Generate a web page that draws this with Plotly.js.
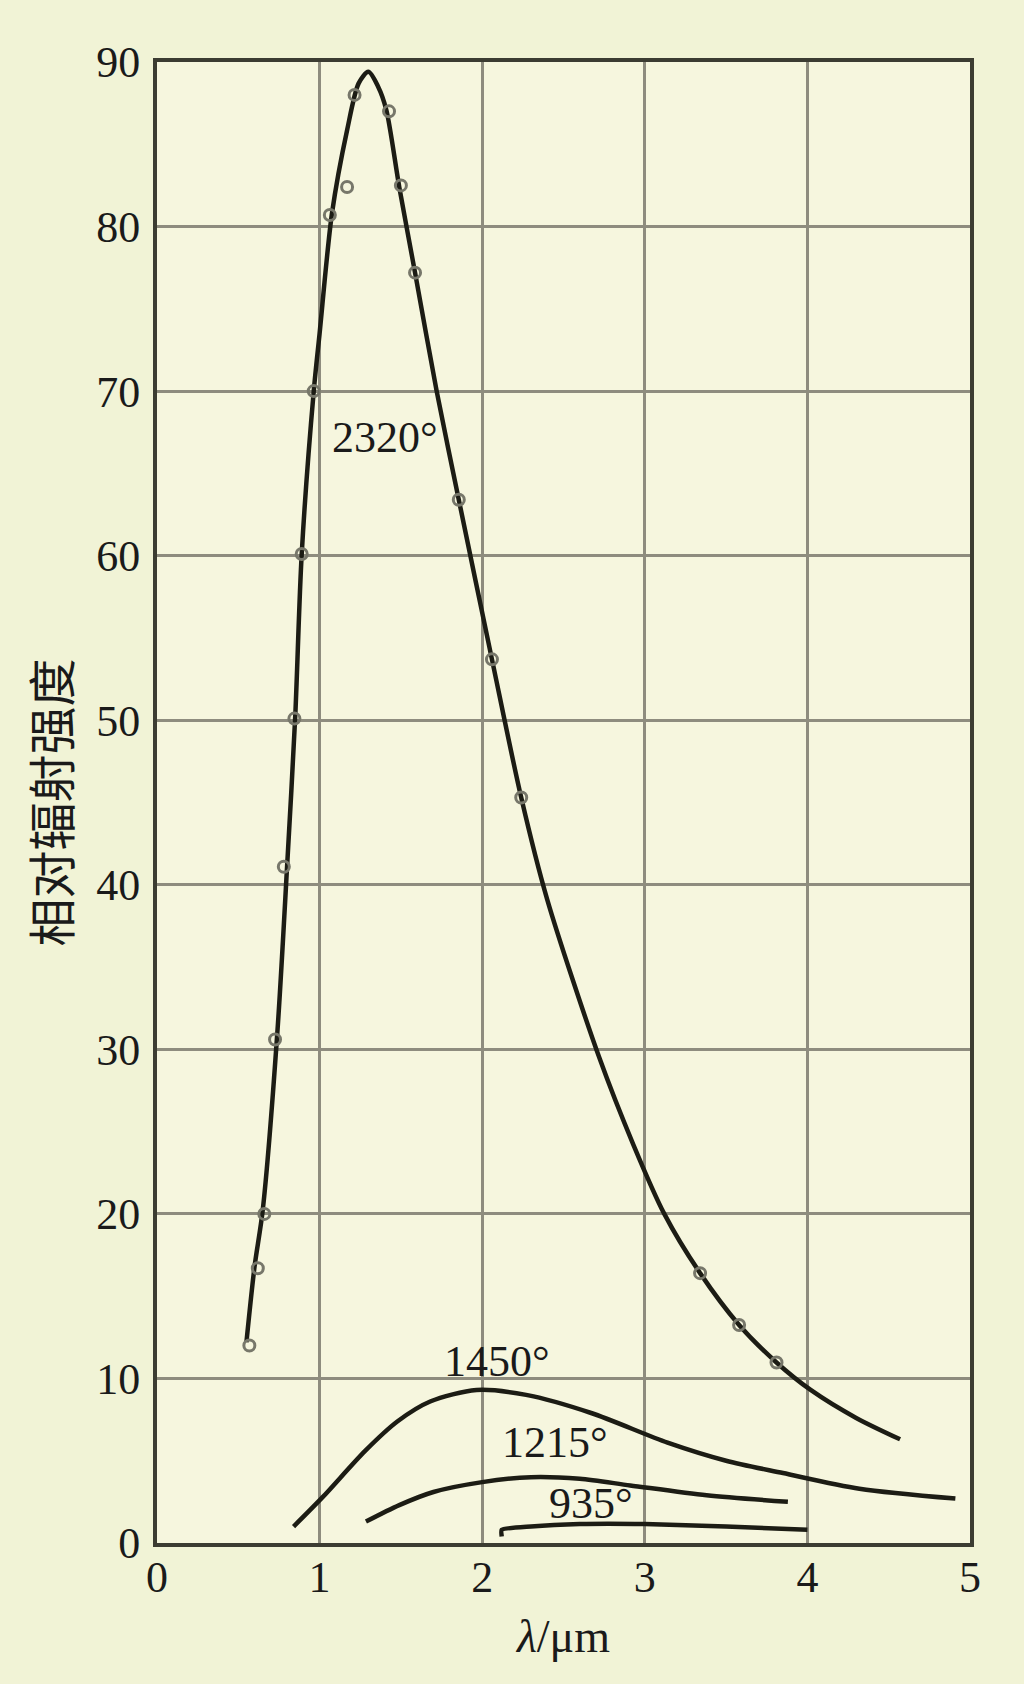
<!DOCTYPE html>
<html>
<head>
<meta charset="utf-8">
<script src="https://cdn.plot.ly/plotly-3.0.1.min.js"></script>
<style>
  html, body { margin: 0; padding: 0; background: #f1f3d6; }
  #chart { width: 1024px; height: 1684px; }
</style>
</head>
<body>
<div id="chart"></div>
<script>
// Wavelength (µm) and relative radiation intensity
const x2320 = [0.55, 0.60, 0.65, 0.74, 0.80, 0.85, 0.89, 0.964, 1.00, 1.076, 1.17, 1.24, 1.30, 1.36, 1.41, 1.49, 1.587, 1.72, 1.856, 2.06, 2.24, 2.40, 2.72, 2.93, 3.12, 3.34, 3.58, 3.81, 4.02, 4.30, 4.57];
const y2320 = [12.2, 16.8, 20.2, 31.0, 41.1, 50.2, 60.1, 70.0, 73.5, 80.8, 85.9, 88.7, 89.4, 88.5, 87.1, 82.4, 77.2, 70.0, 63.4, 53.7, 45.3, 39.1, 29.5, 24.2, 20.0, 16.4, 13.25, 10.97, 9.3, 7.6, 6.3];

const xMeas = [0.568, 0.62, 0.66, 0.726, 0.78, 0.845, 0.89, 0.964, 1.063, 1.169, 1.215, 1.427, 1.50, 1.587, 1.856, 2.06, 2.24, 3.34, 3.58, 3.81];
const yMeas = [12.0, 16.7, 20.0, 30.6, 41.1, 50.1, 60.1, 70.0, 80.7, 82.4, 88.0, 87.0, 82.5, 77.2, 63.4, 53.7, 45.3, 16.4, 13.25, 10.97];

const x1450 = [0.84, 1.02, 1.28, 1.48, 1.68, 1.965, 2.27, 2.67, 3.14, 3.50, 3.85, 4.32, 4.91];
const y1450 = [1.0, 2.8, 5.6, 7.4, 8.6, 9.3, 9.0, 7.9, 6.1, 5.0, 4.25, 3.3, 2.7];

const x1215 = [1.285, 1.49, 1.70, 2.00, 2.30, 2.60, 2.91, 3.38, 3.88];
const y1215 = [1.3, 2.3, 3.1, 3.7, 4.0, 3.9, 3.5, 2.9, 2.5];

const x935 = [2.12, 2.12, 2.30, 2.60, 3.00, 3.50, 4.00];
const y935 = [0.4, 0.8, 1.0, 1.15, 1.15, 1.0, 0.8];

const curveLabels = ['2320°', '1450°', '1215°', '935°'];
const labelX = [1.40, 2.09, 2.45, 2.67];
const labelY = [67.2, 11.0, 6.1, 2.4];

const xTicks = [0, 1, 2, 3, 4, 5];
const yTicks = [0, 10, 20, 30, 40, 50, 60, 70, 80, 90];

const lineStyle = {color: '#1c1c14', width: 4.5, shape: 'spline', smoothing: 0.8};

const traces = [
  {x: x2320, y: y2320, mode: 'lines', line: lineStyle, hoverinfo: 'skip'},
  {x: x1450, y: y1450, mode: 'lines', line: lineStyle, hoverinfo: 'skip'},
  {x: x1215, y: y1215, mode: 'lines', line: lineStyle, hoverinfo: 'skip'},
  {x: x935, y: y935, mode: 'lines', line: {color: '#1c1c14', width: 4.5, shape: 'spline', smoothing: 0.5}, hoverinfo: 'skip'},
  {x: xMeas, y: yMeas, mode: 'markers', marker: {symbol: 'circle-open', size: 11, color: '#77776a', line: {width: 3, color: '#77776a'}}, hoverinfo: 'skip'}
];

const serif = 'Liberation Serif, Times New Roman, serif';

const annotations = curveLabels.map((t, i) => ({
  x: labelX[i], y: labelY[i], xref: 'x', yref: 'y', text: t, showarrow: false,
  font: {family: serif, size: 44, color: '#1a1a1a'},
  bgcolor: 'rgba(0,0,0,0)'
}));

const layout = {
  width: 1024, height: 1684,
  margin: {l: 157, r: 54, t: 62, b: 141},
  paper_bgcolor: '#f1f3d6',
  plot_bgcolor: '#f6f6de',
  showlegend: false,
  xaxis: {
    range: [0, 5], tickvals: xTicks, ticktext: xTicks.map(String),
    showgrid: true, gridcolor: '#8e8c7e', gridwidth: 3,
    showline: true, linecolor: '#3c3c32', linewidth: 4, mirror: true,
    zeroline: false, ticks: '', ticklabelstandoff: -8,
    tickfont: {family: serif, size: 44, color: '#1a1a1a'},
    title: {text: '<i>λ</i>/μm', font: {family: serif, size: 46, color: '#1a1a1a'}, standoff: 20}
  },
  yaxis: {
    range: [0, 90], tickvals: yTicks, ticktext: yTicks.map(String),
    showgrid: true, gridcolor: '#8e8c7e', gridwidth: 3,
    showline: true, linecolor: '#3c3c32', linewidth: 4, mirror: true,
    zeroline: false, ticks: '', ticklabelstandoff: 4,
    tickfont: {family: serif, size: 44, color: '#1a1a1a'},
    title: {text: '相对辐射强度', font: {family: 'Noto Sans CJK SC, sans-serif', size: 48, color: '#1a1a1a'}, standoff: 11}
  },
  annotations: annotations
};

Plotly.newPlot('chart', traces, layout, {staticPlot: true, displayModeBar: false});
</script>
</body>
</html>
